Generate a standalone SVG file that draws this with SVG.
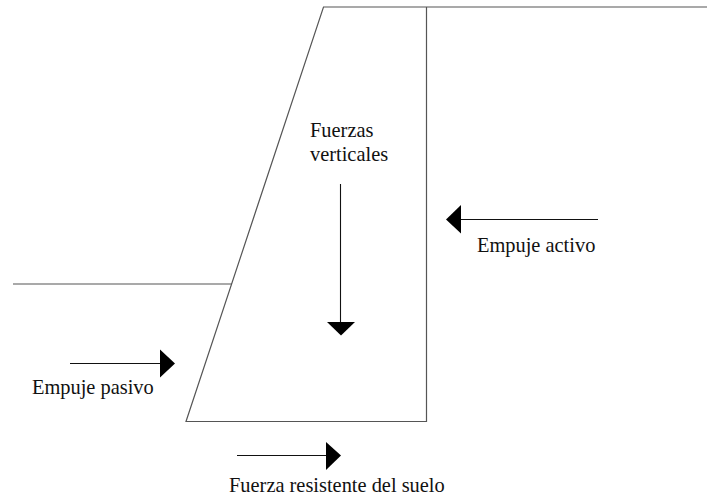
<svg xmlns="http://www.w3.org/2000/svg" width="707" height="497" viewBox="0 0 707 497">
<style>
.g{stroke:#555;stroke-width:1.2;fill:none}
.c{stroke:#111;stroke-width:1.1;fill:none}
.h{fill:#000;stroke:none}
text{font-family:"Liberation Serif","Times New Roman",serif;font-size:20.4px;fill:#111}
</style>
<rect width="707" height="497" fill="#fff"/>
<g id="muro">
<path class="g" d="M707 7H323.500L186 421.500H426.500V7"/>
<path class="g" d="M13 284H232"/>
</g>
<g id="connectors">
<path class="c" d="M340.500 184V323"/><polygon class="h" points="327,322 355,322 341,335.500"/>
<path class="c" d="M598 219.500H460"/><polygon class="h" points="461,205 461,233.500 446,219.500"/>
<path class="c" d="M70 363.500H161"/><polygon class="h" points="160,349.500 160,377.500 175,363.500"/>
<path class="c" d="M237 455.500H327"/><polygon class="h" points="326,442 326,470 341,455.500"/>
</g>
<g id="fuerzas-verticales"><text x="310" y="137">Fuerzas</text><text x="310" y="161">verticales</text></g>
<g id="empuje-activo"><text x="477" y="252">Empuje activo</text></g>
<g id="empuje-pasivo"><text x="32" y="394">Empuje pasivo</text></g>
<g id="fuerza-resistente"><text x="229" y="492">Fuerza resistente del suelo</text></g>
</svg>
